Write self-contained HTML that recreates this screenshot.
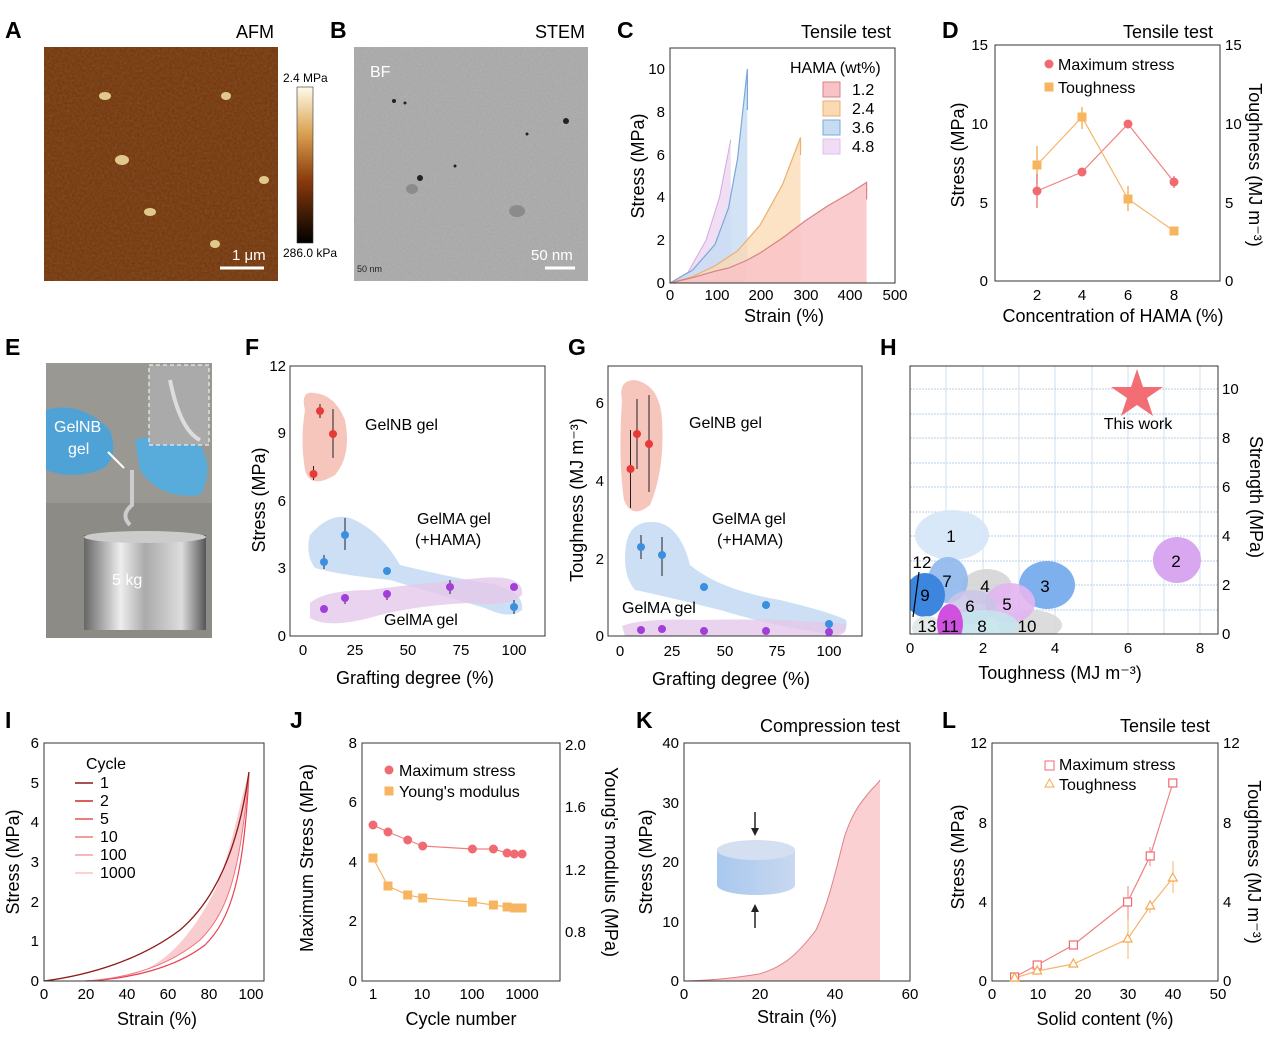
<!DOCTYPE html>
<html><head><meta charset="utf-8"><style>
body{margin:0;background:#fff}
svg{display:block;font-family:"Liberation Sans",Arial,sans-serif}
.L{font-weight:bold;font-size:23px}
.t{font-size:15px}
.a{font-size:18px}
.f{fill:none;stroke:#333;stroke-width:1}
</style></head><body>
<svg width="1268" height="1044" viewBox="0 0 1268 1044">
<defs>
<filter id="tex" x="0" y="0" width="1" height="1"><feTurbulence type="fractalNoise" baseFrequency="0.4" numOctaves="2" seed="3"/><feColorMatrix values="0 0 0 0 0.2  0 0 0 0 0.08  0 0 0 0 0.02  0 0 0 1.6 -0.5"/></filter>
<filter id="tex2" x="0" y="0" width="1" height="1"><feTurbulence type="fractalNoise" baseFrequency="0.5" numOctaves="2" seed="7"/><feColorMatrix values="0 0 0 0 0.55  0 0 0 0 0.55  0 0 0 0 0.55  0 0 0 0.4 0"/></filter>
<linearGradient id="cb" x1="0" y1="0" x2="0" y2="1"><stop offset="0" stop-color="#fffbe8"/><stop offset="0.3" stop-color="#d9a050"/><stop offset="0.6" stop-color="#8a3a0c"/><stop offset="1" stop-color="#000"/></linearGradient>
<linearGradient id="cyl" x1="0" y1="0" x2="1" y2="0"><stop offset="0" stop-color="#666"/><stop offset="0.3" stop-color="#eee"/><stop offset="0.5" stop-color="#aaa"/><stop offset="0.8" stop-color="#ddd"/><stop offset="1" stop-color="#555"/></linearGradient>
<linearGradient id="disk" x1="0" y1="0" x2="1" y2="0"><stop offset="0" stop-color="#a9c8ee"/><stop offset="1" stop-color="#c8d8f0"/></linearGradient>
<clipPath id="hc"><rect x="910" y="366" width="308" height="268"/></clipPath>
</defs>

<!-- A -->
<text x="5" y="38" class="L">A</text>
<text x="236" y="38" class="a">AFM</text>
<rect x="44" y="47" width="234" height="234" fill="#7a3a10"/>
<rect x="44" y="47" width="234" height="234" filter="url(#tex)"/>
<g fill="#f3e0a0" opacity="0.85"><ellipse cx="105" cy="96" rx="6" ry="4"/><ellipse cx="122" cy="160" rx="7" ry="5"/><ellipse cx="150" cy="212" rx="6" ry="4"/><ellipse cx="226" cy="96" rx="5" ry="4"/><ellipse cx="264" cy="180" rx="5" ry="4"/><ellipse cx="215" cy="244" rx="5" ry="4"/></g>
<line x1="220" y1="268" x2="264" y2="268" stroke="#fff" stroke-width="3"/>
<text x="232" y="260" class="t" fill="#fff">1 μm</text>
<rect x="297" y="87" width="16" height="156" fill="url(#cb)" stroke="#333" stroke-width="0.6"/>
<text x="283" y="82" font-size="12">2.4 MPa</text>
<text x="283" y="257" font-size="12">286.0 kPa</text>

<!-- B -->
<text x="330" y="38" class="L">B</text>
<text x="535" y="38" class="a">STEM</text>
<rect x="354" y="47" width="234" height="234" fill="#a5a5a5"/>
<rect x="354" y="47" width="234" height="234" filter="url(#tex2)"/>
<g fill="#222"><circle cx="394" cy="101" r="2"/><circle cx="405" cy="103" r="1.5"/><circle cx="566" cy="121" r="3"/><circle cx="420" cy="178" r="3"/><circle cx="455" cy="166" r="1.5"/><circle cx="527" cy="134" r="1.5"/></g>
<g fill="#777" opacity="0.6"><ellipse cx="517" cy="211" rx="8" ry="6"/><ellipse cx="412" cy="189" rx="6" ry="5"/></g>
<text x="370" y="77" font-size="16" fill="#fff">BF</text>
<line x1="545" y1="268" x2="575" y2="268" stroke="#fff" stroke-width="3"/>
<text x="531" y="260" class="t" fill="#fff">50 nm</text>
<text x="357" y="272" font-size="9" fill="#222">50 nm</text>

<!-- C -->
<text x="617" y="38" class="L">C</text>
<text x="801" y="38" class="a">Tensile test</text>
<polygon points="670,283 688,272.3 706,240.2 719.5,197.4 730.75,139.6 730.75,283" fill="#e8d0f0" opacity="0.7"/>
<polygon points="670,283 692.5,270.2 715,244.5 728.5,208 737.5,159 747.4,69 747.4,283" fill="#c6dcf3" opacity="0.8"/>
<polygon points="670,283 692.5,276.6 715,265.9 737.5,250.9 760,225.2 782.5,184.6 800.5,137.5 800.5,283" fill="#fbd9b2" opacity="0.75"/>
<polygon points="670,283 692.5,277.7 715,271.2 728.5,268 746.5,260.5 760,253 782.5,238 805,221 827.5,206 850,193 866.6,182.4 866.6,283" fill="#f9c3c6" opacity="0.85"/>
<polyline points="670,283 688,272.3 706,240.2 719.5,197.4 730.75,139.6" fill="none" stroke="#d8a8e0" stroke-width="1"/>
<polyline points="670,283 692.5,270.2 715,244.5 728.5,208 737.5,159 747.4,69 747.4,110" fill="none" stroke="#7aa8d8" stroke-width="1.2"/>
<polyline points="670,283 692.5,276.6 715,265.9 737.5,250.9 760,225.2 782.5,184.6 800.5,137.5 800.5,155" fill="none" stroke="#eab070" stroke-width="1.2"/>
<polyline points="670,283 692.5,277.7 715,271.2 728.5,268 746.5,260.5 760,253 782.5,238 805,221 827.5,206 850,193 866.6,182.4 866.6,199.5" fill="none" stroke="#d88088" stroke-width="1.2"/>
<rect x="670" y="48" width="225" height="235" class="f"/>
<g class="t" text-anchor="middle"><text x="670" y="300">0</text><text x="717" y="300">100</text><text x="761" y="300">200</text><text x="806" y="300">300</text><text x="850" y="300">400</text><text x="895" y="300">500</text></g>
<g class="t" text-anchor="end"><text x="665" y="288">0</text><text x="665" y="245">2</text><text x="665" y="202">4</text><text x="665" y="160">6</text><text x="665" y="117">8</text><text x="665" y="74">10</text></g>
<text x="784" y="322" class="a" text-anchor="middle">Strain (%)</text>
<text transform="translate(644,166) rotate(-90)" class="a" text-anchor="middle">Stress (MPa)</text>
<text x="790" y="73" font-size="16">HAMA (wt%)</text>
<rect x="823" y="82" width="17" height="15" fill="#f9c3c6" stroke="#d88088"/><rect x="823" y="101" width="17" height="15" fill="#fbd9b2" stroke="#eab070"/><rect x="823" y="120" width="17" height="15" fill="#c6dcf3" stroke="#7aa8d8"/><rect x="823" y="139" width="17" height="15" fill="#f0dcf5" stroke="#e0c0ea"/>
<g font-size="16"><text x="852" y="95">1.2</text><text x="852" y="114">2.4</text><text x="852" y="133">3.6</text><text x="852" y="152">4.8</text></g>

<!-- D -->
<text x="942" y="38" class="L">D</text>
<text x="1123" y="38" class="a">Tensile test</text>
<rect x="995" y="45" width="225" height="236" class="f"/>
<g stroke="#f0a040" stroke-width="1.2"><line x1="1037" y1="146" x2="1037" y2="184"/><line x1="1082" y1="107" x2="1082" y2="129"/><line x1="1128" y1="186" x2="1128" y2="211"/></g>
<g stroke="#e06868" stroke-width="1.2"><line x1="1037" y1="174" x2="1037" y2="208"/><line x1="1174" y1="176" x2="1174" y2="188"/></g>
<polyline points="1037,191 1082,172 1128,124 1174,182" fill="none" stroke="#f08080" stroke-width="1.2"/>
<polyline points="1037,165 1082,117 1128,199 1174,231" fill="none" stroke="#f5b56a" stroke-width="1.2"/>
<g fill="#f06a72"><circle cx="1037" cy="191" r="4.5"/><circle cx="1082" cy="172" r="4.5"/><circle cx="1128" cy="124" r="4.5"/><circle cx="1174" cy="182" r="4.5"/></g>
<g fill="#f7b560"><rect x="1032.5" y="160.5" width="9" height="9"/><rect x="1077.5" y="112.5" width="9" height="9"/><rect x="1123.5" y="194.5" width="9" height="9"/><rect x="1169.5" y="226.5" width="9" height="9"/></g>
<g class="t" text-anchor="middle"><text x="1037" y="300">2</text><text x="1082" y="300">4</text><text x="1128" y="300">6</text><text x="1174" y="300">8</text></g>
<g class="t" text-anchor="end"><text x="988" y="286">0</text><text x="988" y="208">5</text><text x="988" y="129">10</text><text x="988" y="50">15</text></g>
<g class="t"><text x="1225" y="286">0</text><text x="1225" y="208">5</text><text x="1225" y="129">10</text><text x="1225" y="50">15</text></g>
<text x="1113" y="322" class="a" text-anchor="middle">Concentration of HAMA (%)</text>
<text transform="translate(964,155) rotate(-90)" class="a" text-anchor="middle">Stress (MPa)</text>
<text transform="translate(1249,165) rotate(90)" class="a" text-anchor="middle">Toughness (MJ m⁻³)</text>
<circle cx="1049" cy="64" r="4.5" fill="#f06a72"/><text x="1058" y="70" font-size="16">Maximum stress</text>
<rect x="1044.5" y="82.5" width="9" height="9" fill="#f7b560"/><text x="1058" y="93" font-size="16">Toughness</text>

<!-- E -->
<text x="5" y="355" class="L">E</text>
<rect x="46" y="363" width="166" height="275" fill="#8c8b86"/>
<rect x="46" y="363" width="166" height="140" fill="#9a9892"/>
<path d="M46,410 Q80,400 110,430 Q120,460 100,470 Q70,480 46,470Z" fill="#4fa2d6"/>
<path d="M135,440 Q170,430 200,445 Q215,470 200,495 Q160,500 140,470Z" fill="#58acdc"/>
<rect x="149" y="365" width="60" height="80" fill="#aaa" stroke="#fff" stroke-dasharray="4 3"/>
<path d="M170,380 Q180,430 200,440" fill="none" stroke="#ddd" stroke-width="4"/>
<path d="M132,470 L132,505 Q120,515 130,525" fill="none" stroke="#ccc" stroke-width="4"/>
<rect x="84" y="535" width="122" height="95" fill="url(#cyl)"/>
<ellipse cx="145" cy="537" rx="61" ry="6" fill="#ccc"/>
<text x="112" y="585" font-size="16" fill="#fff">5 kg</text>
<text x="54" y="432" font-size="16" fill="#fff">GelNB</text><text x="68" y="454" font-size="16" fill="#fff">gel</text>
<line x1="108" y1="452" x2="124" y2="468" stroke="#fff" stroke-width="2"/>

<!-- F -->
<text x="245" y="355" class="L">F</text>
<path d="M305,410 Q300,390 315,393 Q335,395 345,420 Q352,455 335,475 Q310,490 305,470 Q300,440 305,410Z" fill="#f5c0b6" opacity="0.9"/>
<path d="M310,535 Q330,512 350,518 Q380,530 400,565 Q440,575 480,582 Q525,588 522,610 Q510,620 485,608 Q440,595 390,580 Q340,575 315,568 Q305,555 310,535Z" fill="#c3d9f2" opacity="0.85"/>
<path d="M310,603 Q325,590 370,590 Q430,582 480,578 Q525,574 522,595 Q510,607 470,603 Q420,605 380,615 Q330,630 310,618Z" fill="#e5c8ea" opacity="0.8"/>
<rect x="290" y="366" width="255" height="270" class="f"/>
<g stroke="#222" stroke-width="1"><line x1="313.5" y1="466" x2="313.5" y2="480"/><line x1="320" y1="404" x2="320" y2="418"/><line x1="333" y1="409" x2="333" y2="458"/><line x1="324" y1="555" x2="324" y2="569"/><line x1="345" y1="518" x2="345" y2="550"/><line x1="450" y1="580" x2="450" y2="594"/><line x1="514" y1="600" x2="514" y2="614"/><line x1="345" y1="594" x2="345" y2="604"/><line x1="387" y1="590" x2="387" y2="600"/></g>
<g fill="#e83838"><circle cx="313.5" cy="474" r="4"/><circle cx="320" cy="411" r="4"/><circle cx="333" cy="434" r="4"/></g>
<g fill="#3b8fe0"><circle cx="324" cy="562" r="4"/><circle cx="345" cy="535" r="4"/><circle cx="387" cy="571" r="4"/><circle cx="514" cy="607" r="4"/></g>
<g fill="#a040d8"><circle cx="324" cy="609" r="4"/><circle cx="345" cy="598" r="4"/><circle cx="387" cy="594" r="4"/><circle cx="450" cy="587" r="4"/><circle cx="514" cy="587" r="4"/></g>
<text x="365" y="430" font-size="16">GelNB gel</text>
<text x="417" y="524" font-size="16">GelMA gel</text><text x="415" y="545" font-size="16">(+HAMA)</text>
<text x="384" y="625" font-size="16">GelMA gel</text>
<g class="t" text-anchor="middle"><text x="303" y="655">0</text><text x="355" y="655">25</text><text x="408" y="655">50</text><text x="461" y="655">75</text><text x="514" y="655">100</text></g>
<g class="t" text-anchor="end"><text x="286" y="641">0</text><text x="286" y="573">3</text><text x="286" y="506">6</text><text x="286" y="438">9</text><text x="286" y="371">12</text></g>
<text x="415" y="684" class="a" text-anchor="middle">Grafting degree (%)</text>
<text transform="translate(265,500) rotate(-90)" class="a" text-anchor="middle">Stress (MPa)</text>

<!-- G -->
<text x="568" y="355" class="L">G</text>
<path d="M622,400 Q618,380 635,380 Q660,385 662,420 Q665,470 650,505 Q632,520 624,500 Q618,460 622,400Z" fill="#f5c0b6" opacity="0.9"/>
<path d="M626,545 Q630,520 655,522 Q680,525 690,565 Q720,590 780,600 Q830,612 846,620 Q850,635 830,634 Q780,628 720,610 Q660,595 635,590 Q622,575 626,545Z" fill="#c3d9f2" opacity="0.85"/>
<path d="M622,626 Q640,618 700,620 Q780,618 845,624 Q850,636 830,636 L625,636Z" fill="#e5c8ea" opacity="0.8"/>
<rect x="608" y="366" width="254" height="270" class="f"/>
<g stroke="#222" stroke-width="1"><line x1="630.5" y1="430" x2="630.5" y2="508"/><line x1="637" y1="399" x2="637" y2="469"/><line x1="649" y1="395" x2="649" y2="492"/><line x1="641" y1="535" x2="641" y2="559"/><line x1="662" y1="537" x2="662" y2="576"/><line x1="704" y1="583" x2="704" y2="591"/><line x1="766" y1="601" x2="766" y2="609"/></g>
<g fill="#e83838"><circle cx="630.5" cy="469" r="4"/><circle cx="637" cy="434" r="4"/><circle cx="649" cy="444" r="4"/></g>
<g fill="#3b8fe0"><circle cx="641" cy="547" r="4"/><circle cx="662" cy="555" r="4"/><circle cx="704" cy="587" r="4"/><circle cx="766" cy="605" r="4"/><circle cx="829" cy="624" r="4"/></g>
<g fill="#a040d8"><circle cx="641" cy="630" r="4"/><circle cx="662" cy="629" r="4"/><circle cx="704" cy="631" r="4"/><circle cx="766" cy="631" r="4"/><circle cx="829" cy="632" r="4"/></g>
<text x="689" y="428" font-size="16">GelNB gel</text>
<text x="712" y="524" font-size="16">GelMA gel</text><text x="717" y="545" font-size="16">(+HAMA)</text>
<text x="622" y="613" font-size="16">GelMA gel</text>
<g class="t" text-anchor="middle"><text x="620" y="656">0</text><text x="672" y="656">25</text><text x="725" y="656">50</text><text x="777" y="656">75</text><text x="829" y="656">100</text></g>
<g class="t" text-anchor="end"><text x="604" y="641">0</text><text x="604" y="564">2</text><text x="604" y="486">4</text><text x="604" y="408">6</text></g>
<text x="731" y="685" class="a" text-anchor="middle">Grafting degree (%)</text>
<text transform="translate(583,500) rotate(-90)" class="a" text-anchor="middle">Toughness (MJ m⁻³)</text>

<!-- H -->
<text x="880" y="355" class="L">H</text>
<g stroke="#cfe0f2" stroke-width="1"><line x1="946" y1="366" x2="946" y2="634"/><line x1="983" y1="366" x2="983" y2="634"/><line x1="1019" y1="366" x2="1019" y2="634"/><line x1="1055" y1="366" x2="1055" y2="634"/><line x1="1092" y1="366" x2="1092" y2="634"/><line x1="1128" y1="366" x2="1128" y2="634"/><line x1="1164" y1="366" x2="1164" y2="634"/><line x1="1200" y1="366" x2="1200" y2="634"/></g>
<g stroke="#b8cfea" stroke-width="1" stroke-dasharray="2 1"><line x1="910" y1="610" x2="1218" y2="610"/><line x1="910" y1="585" x2="1218" y2="585"/><line x1="910" y1="561" x2="1218" y2="561"/><line x1="910" y1="536" x2="1218" y2="536"/><line x1="910" y1="512" x2="1218" y2="512"/><line x1="910" y1="487" x2="1218" y2="487"/><line x1="910" y1="463" x2="1218" y2="463"/><line x1="910" y1="438" x2="1218" y2="438"/><line x1="910" y1="414" x2="1218" y2="414"/><line x1="910" y1="389" x2="1218" y2="389"/></g>
<g clip-path="url(#hc)">
<ellipse cx="952" cy="535" rx="37" ry="25" fill="#d5e5f7" opacity="0.9"/>
<ellipse cx="987" cy="587" rx="25" ry="18" fill="#d2d2d2" opacity="0.85"/>
<ellipse cx="948" cy="580" rx="20" ry="23" fill="#8fb8ec" opacity="0.9"/>
<ellipse cx="1047" cy="585" rx="28" ry="24" fill="#7eb0ee"/>
<ellipse cx="1177" cy="560" rx="24" ry="23" fill="#d9a6f0"/>
<ellipse cx="1030" cy="625" rx="32" ry="15" fill="#d8d8d8" opacity="0.9"/>
<ellipse cx="1010" cy="603" rx="25" ry="20" fill="#e2b5f0" opacity="0.9"/>
<ellipse cx="972" cy="607" rx="25" ry="17" fill="#c9c4e8" opacity="0.85"/>
<ellipse cx="983" cy="625" rx="35" ry="15" fill="#c4e4ec" opacity="0.9"/>
<ellipse cx="925" cy="595" rx="20" ry="22" fill="#3c86e0"/>
<ellipse cx="927" cy="628" rx="15" ry="12" fill="#e0e8e8" opacity="0.9"/>
<ellipse cx="950" cy="624" rx="13" ry="20" fill="#d050e0"/>
</g>
<rect x="910" y="366" width="308" height="268" class="f"/>
<line x1="919" y1="572" x2="913" y2="617" stroke="#000" stroke-width="1.2"/>
<g font-size="17" text-anchor="middle"><text x="951" y="542">1</text><text x="1176" y="567">2</text><text x="1045" y="592">3</text><text x="985" y="592">4</text><text x="1007" y="610">5</text><text x="970" y="612">6</text><text x="947" y="587">7</text><text x="982" y="632">8</text><text x="925" y="601">9</text><text x="1027" y="632">10</text><text x="950" y="632">11</text><text x="922" y="568">12</text><text x="927" y="632">13</text></g>
<polygon points="1137,369 1143,387 1163,387 1147,398 1153,416 1137,405 1121,416 1127,398 1111,387 1131,387" fill="#f26e74"/>
<text x="1138" y="429" font-size="16" text-anchor="middle">This work</text>
<g class="t" text-anchor="middle"><text x="910" y="653">0</text><text x="983" y="653">2</text><text x="1055" y="653">4</text><text x="1128" y="653">6</text><text x="1200" y="653">8</text></g>
<g class="t"><text x="1222" y="639">0</text><text x="1222" y="590">2</text><text x="1222" y="541">4</text><text x="1222" y="492">6</text><text x="1222" y="443">8</text><text x="1222" y="394">10</text></g>
<text x="1060" y="679" class="a" text-anchor="middle">Toughness (MJ m⁻³)</text>
<text transform="translate(1250,497) rotate(90)" class="a" text-anchor="middle">Strength (MPa)</text>

<!-- I -->
<text x="5" y="728" class="L">I</text>
<path d="M85.4,981 C130,978 170,965 200,940 C225,915 240,880 249,772 C240,800 232,850 215,890 C195,930 170,960 140,972 C120,979 100,981 85.4,981Z" fill="#f8c0c4" opacity="0.8"/>
<path d="M85.4,981 C130,979 175,968 205,945 C230,920 244,880 249,772" fill="none" stroke="#e84050" stroke-width="1.2"/>
<path d="M85.4,981 C130,978 170,965 200,940 C225,915 240,880 249,772" fill="none" stroke="#f07080" stroke-width="1"/>
<path d="M44,981 C90,975 140,960 180,930 C215,900 238,850 249,772" fill="none" stroke="#8b1a1a" stroke-width="1.3"/>
<rect x="44" y="743" width="220" height="238" class="f"/>
<g class="t" text-anchor="middle"><text x="44" y="999">0</text><text x="86" y="999">20</text><text x="127" y="999">40</text><text x="168" y="999">60</text><text x="209" y="999">80</text><text x="251" y="999">100</text></g>
<g class="t" text-anchor="end"><text x="39" y="986">0</text><text x="39" y="946">1</text><text x="39" y="907">2</text><text x="39" y="867">3</text><text x="39" y="827">4</text><text x="39" y="788">5</text><text x="39" y="748">6</text></g>
<text x="157" y="1025" class="a" text-anchor="middle">Strain (%)</text>
<text transform="translate(19,862) rotate(-90)" class="a" text-anchor="middle">Stress (MPa)</text>
<text x="86" y="769" font-size="16">Cycle</text>
<g stroke-width="1.5"><line x1="75" y1="783" x2="93" y2="783" stroke="#8b1a1a"/><line x1="75" y1="801" x2="93" y2="801" stroke="#d02a2a"/><line x1="75" y1="819" x2="93" y2="819" stroke="#e85050"/><line x1="75" y1="837" x2="93" y2="837" stroke="#f07a7a"/><line x1="75" y1="855" x2="93" y2="855" stroke="#f5a0a0"/><line x1="75" y1="873" x2="93" y2="873" stroke="#f8c4c4"/></g>
<g font-size="16"><text x="100" y="788">1</text><text x="100" y="806">2</text><text x="100" y="824">5</text><text x="100" y="842">10</text><text x="100" y="860">100</text><text x="100" y="878">1000</text></g>

<!-- J -->
<text x="290" y="728" class="L">J</text>
<rect x="362" y="743" width="198" height="238" class="f"/>
<polyline points="373,825 388,832 407.7,840 422.7,846 472.4,849 493.4,849 507.1,853 514.4,854 522.1,854" fill="none" stroke="#f08080" stroke-width="1.2"/>
<polyline points="373,858 388,886 407.7,895 422.7,898 472.4,902 493.4,905 507.1,907 514.4,908 522.1,908" fill="none" stroke="#f5b56a" stroke-width="1.2"/>
<g fill="#f06a72"><circle cx="373" cy="825" r="4.5"/><circle cx="388" cy="832" r="4.5"/><circle cx="407.7" cy="840" r="4.5"/><circle cx="422.7" cy="846" r="4.5"/><circle cx="472.4" cy="849" r="4.5"/><circle cx="493.4" cy="849" r="4.5"/><circle cx="507.1" cy="853" r="4.5"/><circle cx="514.4" cy="854" r="4.5"/><circle cx="522.1" cy="854" r="4.5"/></g>
<g fill="#f7b560"><rect x="368.5" y="853.5" width="9" height="9"/><rect x="383.5" y="881.5" width="9" height="9"/><rect x="403.2" y="890.5" width="9" height="9"/><rect x="418.2" y="893.5" width="9" height="9"/><rect x="467.9" y="897.5" width="9" height="9"/><rect x="488.9" y="900.5" width="9" height="9"/><rect x="502.6" y="902.5" width="9" height="9"/><rect x="509.9" y="903.5" width="9" height="9"/><rect x="517.6" y="903.5" width="9" height="9"/></g>
<g class="t" text-anchor="middle"><text x="373" y="999">1</text><text x="422" y="999">10</text><text x="472" y="999">100</text><text x="522" y="999">1000</text></g>
<g class="t" text-anchor="end"><text x="357" y="986">0</text><text x="357" y="926">2</text><text x="357" y="867">4</text><text x="357" y="807">6</text><text x="357" y="748">8</text></g>
<g class="t"><text x="565" y="937">0.8</text><text x="565" y="875">1.2</text><text x="565" y="812">1.6</text><text x="565" y="750">2.0</text></g>
<text x="461" y="1025" class="a" text-anchor="middle">Cycle number</text>
<text transform="translate(313,858) rotate(-90)" class="a" text-anchor="middle">Maximum Stress (MPa)</text>
<text transform="translate(605,862) rotate(90)" class="a" text-anchor="middle">Young's modulus (MPa)</text>
<circle cx="389" cy="770" r="4.5" fill="#f06a72"/><text x="399" y="776" font-size="16">Maximum stress</text>
<rect x="384.5" y="786.5" width="9" height="9" fill="#f7b560"/><text x="399" y="797" font-size="16">Young's modulus</text>

<!-- K -->
<text x="636" y="728" class="L">K</text>
<text x="760" y="732" class="a">Compression test</text>
<path d="M684,981 C720,980 740,977 759,974 C780,968 795,958 816,930 C830,900 838,860 845,835 C852,815 858,806 867,795 C872,788 878,784 880,780 L880,981Z" fill="#fbd0d2"/>
<path d="M684,981 C720,980 740,977 759,974 C780,968 795,958 816,930 C830,900 838,860 845,835 C852,815 858,806 867,795 C872,788 878,784 880,780" fill="none" stroke="#e08088" stroke-width="1"/>
<rect x="684" y="743" width="226" height="238" class="f"/>
<path d="M717,850 L717,885 A39,10 0 0 0 795,885 L795,850Z" fill="url(#disk)"/>
<ellipse cx="756" cy="850" rx="39" ry="10" fill="#d4e0f2"/>
<line x1="755" y1="812" x2="755" y2="830" stroke="#222" stroke-width="1.5"/><polygon points="751,828 759,828 755,836" fill="#222"/>
<line x1="755" y1="910" x2="755" y2="928" stroke="#222" stroke-width="1.5"/><polygon points="751,912 759,912 755,904" fill="#222"/>
<g class="t" text-anchor="middle"><text x="684" y="999">0</text><text x="760" y="999">20</text><text x="835" y="999">40</text><text x="910" y="999">60</text></g>
<g class="t" text-anchor="end"><text x="679" y="986">0</text><text x="679" y="927">10</text><text x="679" y="867">20</text><text x="679" y="808">30</text><text x="679" y="748">40</text></g>
<text x="797" y="1023" class="a" text-anchor="middle">Strain (%)</text>
<text transform="translate(652,862) rotate(-90)" class="a" text-anchor="middle">Stress (MPa)</text>

<!-- L -->
<text x="942" y="728" class="L">L</text>
<text x="1120" y="732" class="a">Tensile test</text>
<rect x="992" y="743" width="226" height="238" class="f"/>
<g stroke="#f08080" stroke-width="1"><line x1="1128" y1="886" x2="1128" y2="922"/><line x1="1150" y1="847" x2="1150" y2="866"/></g>
<g stroke="#f5b56a" stroke-width="1"><line x1="1128" y1="919" x2="1128" y2="959"/><line x1="1150" y1="900" x2="1150" y2="913"/><line x1="1173" y1="861" x2="1173" y2="893"/></g>
<polyline points="1014.6,977 1037.2,965 1073.4,945 1127.6,902 1150.2,856 1172.8,783" fill="none" stroke="#f08080" stroke-width="1.2"/>
<polyline points="1014.6,978 1037.2,971 1073.4,964 1127.6,939 1150.2,906 1172.8,878" fill="none" stroke="#f5b56a" stroke-width="1.2"/>
<g fill="#fff" stroke="#f06a72" stroke-width="1.2"><rect x="1010.6" y="973" width="8" height="8"/><rect x="1033.2" y="961" width="8" height="8"/><rect x="1069.4" y="941" width="8" height="8"/><rect x="1123.6" y="898" width="8" height="8"/><rect x="1146.2" y="852" width="8" height="8"/><rect x="1168.8" y="779" width="8" height="8"/></g>
<g fill="#fff" stroke="#f5a950" stroke-width="1.2"><polygon points="1014.6,973 1019,981 1010.2,981"/><polygon points="1037.2,966 1041.6,974 1032.8,974"/><polygon points="1073.4,959 1077.8,967 1069,967"/><polygon points="1127.6,934 1132,942 1123.2,942"/><polygon points="1150.2,901 1154.6,909 1145.8,909"/><polygon points="1172.8,873 1177.2,881 1168.4,881"/></g>
<rect x="1045" y="761" width="9" height="9" fill="#fff" stroke="#f06a72"/><text x="1059" y="770" font-size="16">Maximum stress</text>
<polygon points="1049.5,779 1054,787 1045,787" fill="#fff" stroke="#f5a950"/><text x="1059" y="790" font-size="16">Toughness</text>
<g class="t" text-anchor="middle"><text x="992" y="999">0</text><text x="1038" y="999">10</text><text x="1083" y="999">20</text><text x="1128" y="999">30</text><text x="1173" y="999">40</text><text x="1218" y="999">50</text></g>
<g class="t" text-anchor="end"><text x="987" y="986">0</text><text x="987" y="907">4</text><text x="987" y="828">8</text><text x="987" y="748">12</text></g>
<g class="t"><text x="1223" y="986">0</text><text x="1223" y="907">4</text><text x="1223" y="828">8</text><text x="1223" y="748">12</text></g>
<text x="1105" y="1025" class="a" text-anchor="middle">Solid content (%)</text>
<text transform="translate(964,857) rotate(-90)" class="a" text-anchor="middle">Stress (MPa)</text>
<text transform="translate(1248,862) rotate(90)" class="a" text-anchor="middle">Toughness (MJ m⁻³)</text>
</svg>
</body></html>
